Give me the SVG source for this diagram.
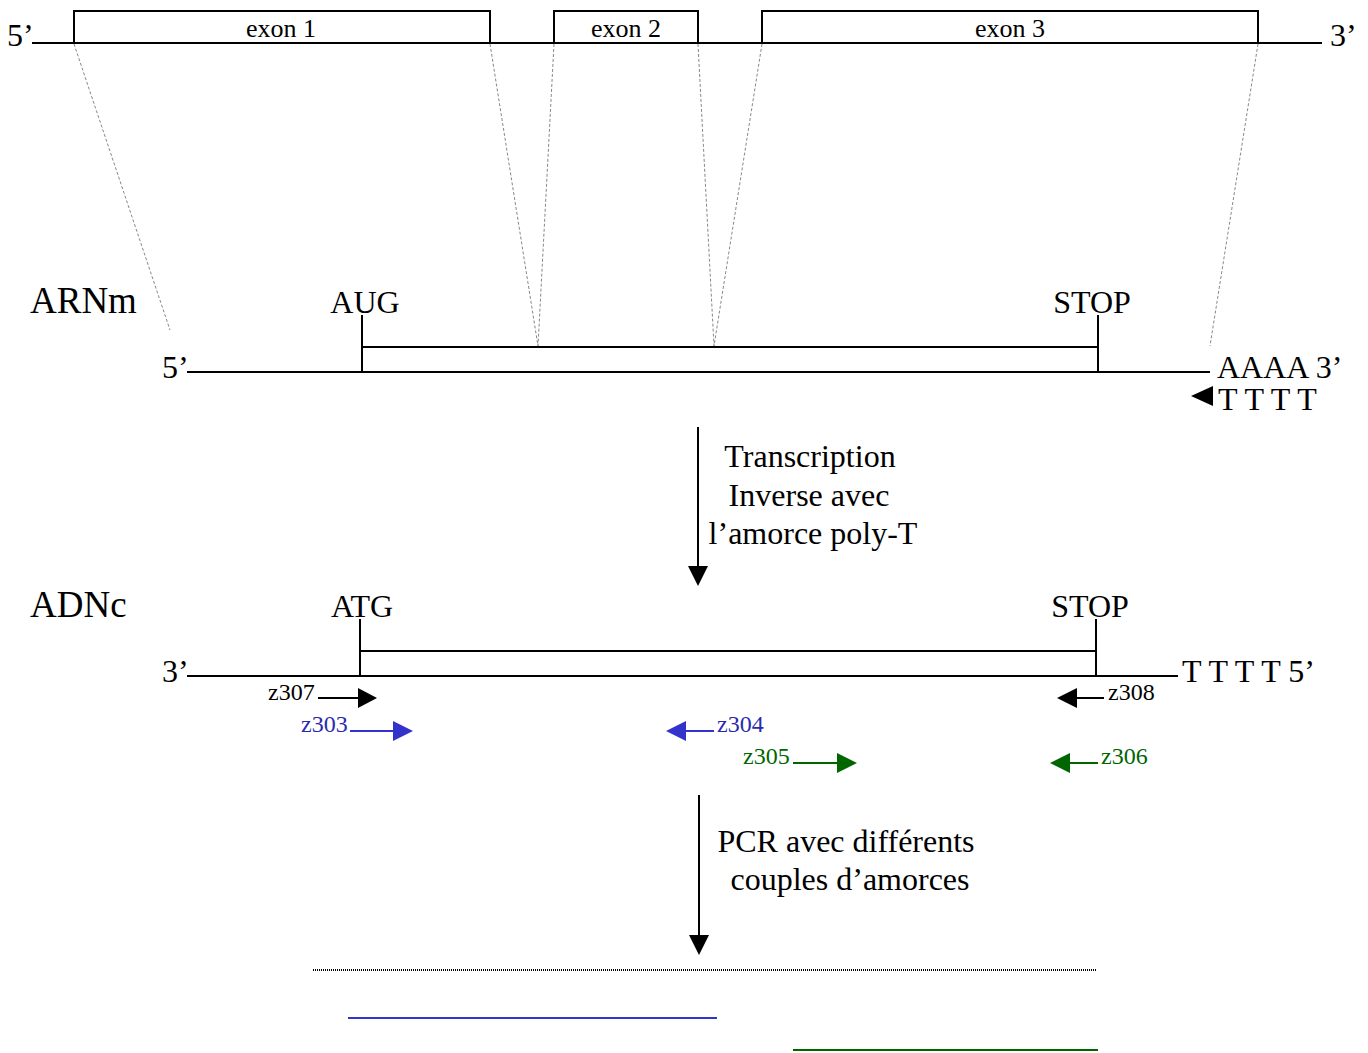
<svg xmlns="http://www.w3.org/2000/svg" width="1368" height="1053" viewBox="0 0 1368 1053">
<style>
text{font-family:"Liberation Serif","Times New Roman",serif;fill:#000}
.big{font-size:37px}
.lab{font-size:32px}
.ex{font-size:26px}
.pr{font-size:24px}
.blue{fill:#2a2ab0}
.green{fill:#006600}
.s{stroke:#000;stroke-width:2;fill:none}
.box{stroke:#000;stroke-width:2;fill:#fff}
.dash{stroke:#888;stroke-width:1;stroke-dasharray:3 2;fill:none}
</style>
<g id="gene">
<line class="s" x1="32" y1="43" x2="1322" y2="43"/>
<rect class="box" x="74" y="11" width="416" height="32"/>
<rect class="box" x="554" y="11" width="144" height="32"/>
<rect class="box" x="762" y="11" width="496" height="32"/>
<text class="ex" x="281" y="37" text-anchor="middle">exon 1</text>
<text class="ex" x="626" y="37" text-anchor="middle">exon 2</text>
<text class="ex" x="1010" y="37" text-anchor="middle">exon 3</text>
<text class="lab" x="7" y="46">5’</text>
<text class="lab" x="1330" y="46">3’</text>
</g>
<g id="projections">
<line class="dash" x1="74" y1="44" x2="170" y2="330"/>
<line class="dash" x1="490" y1="44" x2="538" y2="346"/>
<line class="dash" x1="554" y1="44" x2="538" y2="346"/>
<line class="dash" x1="698" y1="44" x2="714" y2="346"/>
<line class="dash" x1="762" y1="44" x2="714" y2="346"/>
<line class="dash" x1="1258" y1="44" x2="1210" y2="346"/>
</g>
<g id="mrna">
<text class="big" x="30" y="313">ARNm</text>
<line class="s" x1="187" y1="372" x2="1210" y2="372"/>
<rect class="box" x="362" y="347" width="736" height="25"/>
<line class="s" x1="362" y1="315" x2="362" y2="372"/>
<line class="s" x1="1098" y1="315" x2="1098" y2="372"/>
<text class="lab" x="365" y="313" text-anchor="middle">AUG</text>
<text class="lab" x="1092" y="313" text-anchor="middle">STOP</text>
<text class="lab" x="162" y="378">5’</text>
<text class="lab" x="1217" y="378">AAAA 3’</text>
<text class="lab" x="1218" y="410">T T T T</text>
<path d="M1191,396 L1213,386 L1213,406 Z" fill="#000"/>
</g>
<g id="cdna">
<text class="big" x="30" y="617">ADNc</text>
<line class="s" x1="187" y1="676" x2="1178" y2="676"/>
<rect class="box" x="360" y="651" width="736" height="25"/>
<line class="s" x1="360" y1="619" x2="360" y2="676"/>
<line class="s" x1="1096" y1="619" x2="1096" y2="676"/>
<text class="lab" x="362" y="617" text-anchor="middle">ATG</text>
<text class="lab" x="1090" y="617" text-anchor="middle">STOP</text>
<text class="lab" x="162" y="682">3’</text>
<text class="lab" x="1182" y="682">T T T T 5’</text>
</g>
<g id="primers">
<g id="z307"><text class="pr" x="268" y="700">z307</text><line x1="318" y1="698" x2="358" y2="698" stroke="#000" stroke-width="2"/><path d="M377,698 L358,688 L358,708 Z" fill="#000"/></g>
<g id="z308"><path d="M1057,698 L1077,688 L1077,708 Z" fill="#000"/><line x1="1077" y1="698" x2="1104" y2="698" stroke="#000" stroke-width="2"/><text class="pr" x="1108" y="700">z308</text></g>
<g id="z303"><text class="pr blue" x="301" y="732">z303</text><line x1="350" y1="731" x2="393" y2="731" stroke="#3333cc" stroke-width="2"/><path d="M413,731 L393,721 L393,741 Z" fill="#3333cc"/></g>
<g id="z304"><path d="M666,731 L686,721 L686,741 Z" fill="#3333cc"/><line x1="686" y1="731" x2="714" y2="731" stroke="#3333cc" stroke-width="2"/><text class="pr blue" x="717" y="732">z304</text></g>
<g id="z305"><text class="pr green" x="743" y="764">z305</text><line x1="793" y1="763" x2="837" y2="763" stroke="#006600" stroke-width="2"/><path d="M857,763 L837,753 L837,773 Z" fill="#006600"/></g>
<g id="z306"><path d="M1050,763 L1070,753 L1070,773 Z" fill="#006600"/><line x1="1070" y1="763" x2="1098" y2="763" stroke="#006600" stroke-width="2"/><text class="pr green" x="1101" y="764">z306</text></g>
</g>
<g id="connectors">
<line x1="698" y1="427" x2="698" y2="568" stroke="#000" stroke-width="2"/>
<path d="M698,586 L688,566 L708,566 Z" fill="#000"/>
<line x1="699" y1="795" x2="699" y2="936" stroke="#000" stroke-width="2"/>
<path d="M699,955 L689,935 L709,935 Z" fill="#000"/>
</g>
<g id="step1">
<text class="lab" x="810" y="467" text-anchor="middle">Transcription</text>
<text class="lab" x="809" y="506" text-anchor="middle">Inverse avec</text>
<text class="lab" x="813" y="544" text-anchor="middle">l’amorce poly-T</text>
</g>
<g id="step2">
<text class="lab" x="846" y="852" text-anchor="middle">PCR avec différents</text>
<text class="lab" x="850" y="890" text-anchor="middle">couples d’amorces</text>
</g>
<g id="products">
<line x1="313" y1="970" x2="1096" y2="970" stroke="#000" stroke-width="2" stroke-dasharray="1 1"/>
<line x1="348" y1="1018" x2="717" y2="1018" stroke="#3333cc" stroke-width="2"/>
<line x1="793" y1="1050" x2="1098" y2="1050" stroke="#006600" stroke-width="2"/>
</g>
</svg>
